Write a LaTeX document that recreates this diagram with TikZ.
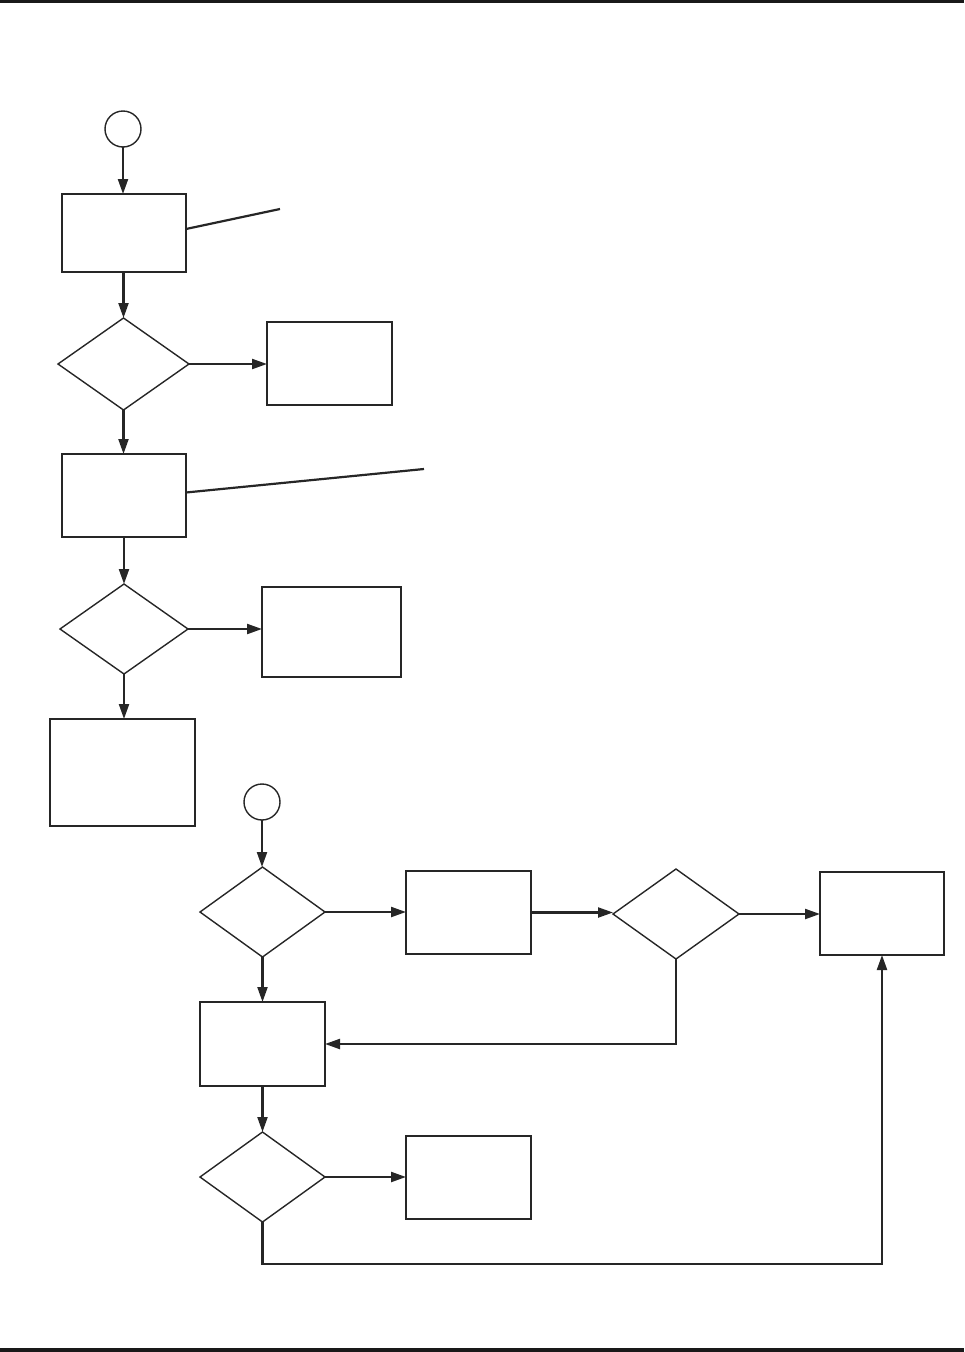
\documentclass[tikz,border=0pt]{standalone}
\usetikzlibrary{shapes.geometric,arrows.meta}
\begin{document}
\begin{tikzpicture}[x=1pt,y=-1pt,
  boxstyle/.style={draw=black!85,line width=1.4pt,rectangle,inner sep=0pt,outer sep=0pt},
  decstyle/.style={draw=black!85,line width=1.4pt,diamond,inner sep=0pt,outer sep=0pt},
  termstyle/.style={draw=black!85,line width=1.4pt,circle,inner sep=0pt,outer sep=0pt,minimum size=36pt},
  conn/.style={draw=black!85,line width=2.2pt,-{Triangle[length=15pt,width=10pt]}},
  plainline/.style={draw=black!85,line width=2.2pt}]
\useasboundingbox (0,0) rectangle (964,1352);
% rules top and bottom
\fill[black!90] (0,0) rectangle (964,3);
\fill[black!90] (0,1348) rectangle (964,1352);
% upper chart
\node[termstyle] (t1) at (123,129) {};
\node[boxstyle,minimum width=124pt,minimum height=78pt] (b1) at (124,233) {};
\node[decstyle,minimum width=131pt,minimum height=92pt] (d1) at (123.5,364) {};
\node[boxstyle,minimum width=125pt,minimum height=83pt] (b2) at (329.5,363.5) {};
\node[boxstyle,minimum width=124pt,minimum height=83pt] (b3) at (124,495.5) {};
\node[decstyle,minimum width=128pt,minimum height=90pt] (d2) at (124,629) {};
\node[boxstyle,minimum width=139pt,minimum height=90pt] (b4) at (331.5,632) {};
\node[boxstyle,minimum width=145pt,minimum height=107pt] (b5) at (122.5,772.5) {};
\coordinate (n1) at (280,209);
\coordinate (n2) at (424,469);
\draw[conn] (t1) -- (t1 |- b1.north);
\draw[conn] (b1.south -| d1) -- (d1.north);
\draw[conn] (d1.east) -- (d1.east -| b2.west);
\draw[conn] (d1.south) -- (d1.south |- b3.north);
\draw[conn] (b3.south -| d2) -- (d2.north);
\draw[conn] (d2.east) -- (d2.east -| b4.west);
\draw[conn] (d2.south) -- (d2.south |- b5.north);
\draw[plainline] ([yshift=4pt]b1.east) -- (n1);
\draw[plainline] ([yshift=3pt]b3.east) -- (n2);
% lower chart
\node[termstyle] (t2) at (262,802) {};
\node[decstyle,minimum width=125pt,minimum height=90pt] (d3) at (262.5,912) {};
\node[boxstyle,minimum width=125pt,minimum height=83pt] (b6) at (468.5,912.5) {};
\node[decstyle,minimum width=126pt,minimum height=90pt] (d4) at (676,914) {};
\node[boxstyle,minimum width=124pt,minimum height=83pt] (b7) at (882,913.5) {};
\node[boxstyle,minimum width=125pt,minimum height=84pt] (b8) at (262.5,1044) {};
\node[decstyle,minimum width=125pt,minimum height=90pt] (d5) at (262.5,1177) {};
\node[boxstyle,minimum width=125pt,minimum height=83pt] (b9) at (468.5,1177.5) {};
\coordinate (c1) at (262.5,1264);
\draw[conn] (t2) -- (t2 |- d3.north);
\draw[conn] (d3.east) -- (d3.east -| b6.west);
\draw[conn] (b6.east) -- (b6.east -| d4.west);
\draw[conn] (d4.east) -- (d4.east -| b7.west);
\draw[conn] (d3.south) -- (d3.south |- b8.north);
\draw[conn] (d4.south) |- (b8.east);
\draw[conn] (b8.south -| d5) -- (d5.north);
\draw[conn] (d5.east) -- (d5.east -| b9.west);
\draw[conn] (d5.south) -- (c1) -| (b7.south);
\end{tikzpicture}
\end{document}
